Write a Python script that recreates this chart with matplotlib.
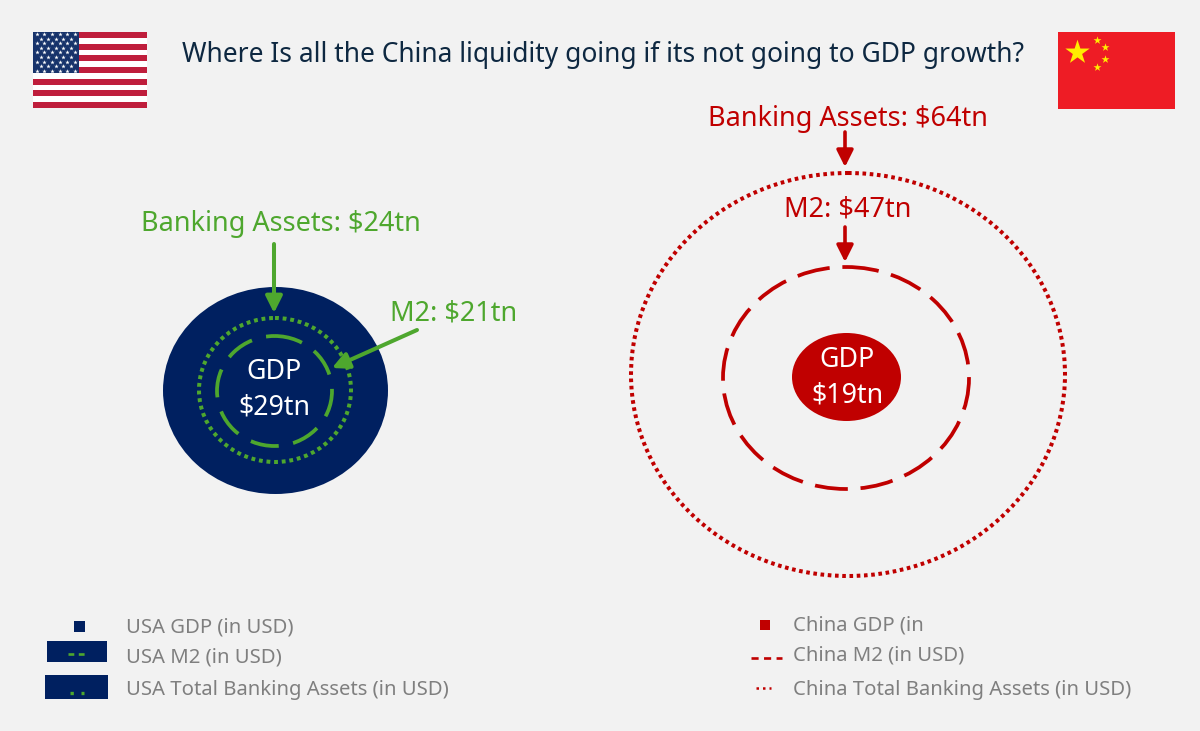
import matplotlib
matplotlib.use("Agg")
import matplotlib.pyplot as plt
from matplotlib.patches import Ellipse, Rectangle

# values shown on the picture, in USD tn
usa_measures = ["GDP", "M2", "Banking Assets"]
usa_values = [29, 21, 24]
china_measures = ["GDP", "M2", "Banking Assets"]
china_values = [19, 47, 64]

title = "Where Is all the China liquidity going if its not going to GDP growth?"
usa_legend = ["USA GDP (in USD)", "USA M2 (in USD)", "USA Total Banking Assets (in USD)"]
china_legend = ["China GDP (in", "China M2 (in USD)", "China Total Banking Assets (in USD)"]

BG = "#f2f2f2"
NAVY = "#002060"
GREEN = "#4ea72e"
RED = "#c00000"
FLAG_RED = "#ee1c25"
FLAG_YELLOW = "#ffee00"
GREY = "#7f7f7f"
TITLE_COL = "#0e2841"

plt.rcParams['font.family'] = ['Noto Sans', 'DejaVu Sans']

fig = plt.figure(figsize=(12, 7.31), dpi=100, facecolor=BG)
ax = fig.add_axes([0, 0, 1, 1])
ax.set_xlim(0, 1200)
ax.set_ylim(731, 0)
ax.axis("off")

ax.text(603, 55, title, ha="center", va="center", fontsize=19.0, color=TITLE_COL)


# flags
def draw_us_flag(x0, y0, w, h):
    stripe = h / 13
    ax.add_patch(Rectangle((x0, y0), w, h, fc="white", ec="none"))
    for i in range(0, 13, 2):
        ax.add_patch(Rectangle((x0, y0 + i * stripe), w, stripe, fc="#bf1e3c", ec="none"))
    cw, ch = w * 0.4, stripe * 7
    ax.add_patch(Rectangle((x0, y0), cw, ch, fc="#17336b", ec="none", zorder=2))
    xs, ys = [], []
    for row in range(9):
        n = 6 if row % 2 == 0 else 5
        off = 0.5 if row % 2 == 0 else 1.0
        for c in range(n):
            xs.append(x0 + (c + off) * cw / 6)
            ys.append(y0 + (row + 0.5) * ch / 9)
    ax.scatter(xs, ys, s=11, marker="*", color="white", linewidths=0, zorder=3)


def draw_china_flag(x0, y0, w, h):
    ax.add_patch(Rectangle((x0, y0), w, h, fc=FLAG_RED, ec="none"))
    ax.scatter([x0 + 19], [y0 + 19.5], s=340, marker="*", color=FLAG_YELLOW, linewidths=0, zorder=3)
    for dx, dy in [(39, 7.5), (47, 15), (47, 27), (39, 35)]:
        ax.scatter([x0 + dx], [y0 + dy], s=36, marker="*", color=FLAG_YELLOW, linewidths=0, zorder=3)


draw_us_flag(33, 32, 114, 76)
draw_china_flag(1058, 32, 117, 77)

# USA circles
ax.add_patch(Ellipse((275.5, 390.5), 225, 207, fc=NAVY, ec="none"))
ax.add_patch(Ellipse((274.5, 391), 115, 110, fc="none", ec=GREEN, lw=2.7,
                     linestyle=(0, (7.6, 3.9))))
ax.add_patch(Ellipse((275, 390), 152, 144, fc="none", ec=GREEN, lw=2.9,
                     linestyle=(0, (0.95, 0.95))))
ax.text(274, 372, usa_measures[0], ha="center", va="center", fontsize=19.3, color="white")
ax.text(274, 407, f"${usa_values[0]}tn", ha="center", va="center", fontsize=19.3, color="white")

# China circles
ax.add_patch(Ellipse((846.5, 377), 109, 88, fc=RED, ec="none"))
ax.add_patch(Ellipse((846, 378), 246, 222, fc="none", ec=RED, lw=2.7,
                     linestyle=(0, (8.8, 3.4))))
ax.add_patch(Ellipse((848, 374.5), 434, 403, fc="none", ec=RED, lw=2.9,
                     linestyle=(0, (0.9, 0.9))))
ax.text(847, 360, china_measures[0], ha="center", va="center", fontsize=19.3, color="white")
ax.text(847, 395, f"${china_values[0]}tn", ha="center", va="center", fontsize=19.3, color="white")


# callouts
def callout(label, value, col, tx, ty, start, end, width=2.9):
    ax.text(tx, ty, f"{label}: ${value}tn", ha="center", va="center", fontsize=19.5, color=col)
    ax.annotate("", xy=end, xytext=start,
                arrowprops=dict(arrowstyle="-|>,head_width=0.5,head_length=1.0", color=col,
                                lw=width, shrinkA=0, shrinkB=0, mutation_scale=10))


callout(usa_measures[2], usa_values[2], GREEN, 280.5, 224, (274, 244), (274, 313))
callout(usa_measures[1], usa_values[1], GREEN, 453.5, 313, (417, 330), (332, 368))
callout(china_measures[2], china_values[2], RED, 848, 119, (845, 132), (845, 167), 2.6)
callout(china_measures[1], china_values[1], RED, 848, 210, (845, 227), (845, 262), 2.6)

# USA legend
ax.add_patch(Rectangle((73.5, 620.5), 11, 11, fc=NAVY, ec="none"))
ax.add_patch(Rectangle((47, 641), 60, 21, fc=NAVY, ec="none"))
ax.plot([68, 87], [654, 654], color=GREEN, lw=1.9, linestyle=(0, (2.2, 1.7)))
ax.add_patch(Rectangle((45, 675), 63, 24, fc=NAVY, ec="none"))
ax.plot([69.5, 83.7], [693, 693], color=GREEN, lw=2.4, linestyle=(0, (1, 2.3)))
for label, y in zip(usa_legend, [628, 657, 690]):
    ax.text(126, y, label, ha="left", va="center", fontsize=14.6, color=GREY)

# China legend
ax.add_patch(Rectangle((759.5, 620), 10, 10, fc=RED, ec="none"))
ax.plot([751, 782], [658, 658], color=RED, lw=1.9, linestyle=(0, (2.7, 2.05)))
ax.plot([755.7, 771.3], [688, 688], color=RED, lw=1.8, linestyle=(0, (1, 1.6)))
for label, y in zip(china_legend, [626, 656, 690]):
    ax.text(793, y, label, ha="left", va="center", fontsize=14.6, color=GREY)

plt.savefig("out.png", dpi=100, facecolor=BG)
